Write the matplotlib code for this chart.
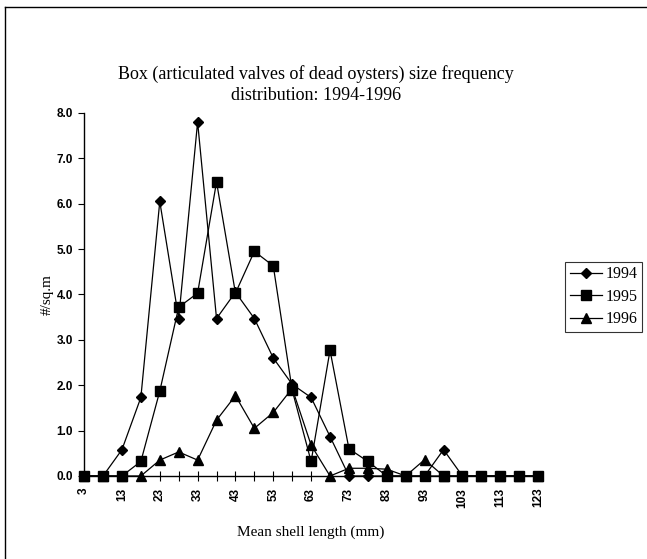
import matplotlib.pyplot as plt
from matplotlib.lines import Line2D

# shell length classes (mm)
lengths = list(range(3, 124, 5))

y1994 = [0, 0, 0.58, 1.73, 6.05, 3.47, 7.8, 3.47, 4.05, 3.47, 2.6, 2.02, 1.73, 0.87,
         0, 0, 0, 0, 0, 0.58, 0, 0, 0, 0, 0]
y1995 = [0, 0, 0, 0.32, 1.87, 3.72, 4.03, 6.48, 4.03, 4.95, 4.63, 1.89, 0.32, 2.77,
         0.6, 0.32, 0, 0, 0, 0, 0, 0, 0, 0, 0]
y1996 = [0, 0, 0, 0, 0.35, 0.53, 0.35, 1.23, 1.77, 1.05, 1.4, 1.93, 0.68, 0,
         0.17, 0.17, 0.15, 0, 0.36, 0, 0, 0, 0, 0, 0]

serif = 'Liberation Serif'
sans = 'Liberation Sans'

fig = plt.figure(figsize=(6.47, 5.59), dpi=100)
ax = fig.add_axes([0.13, 0.1485, 0.7017, 0.6494])

idx = range(len(lengths))
ax.plot(idx, y1994, color='k', lw=0.9, marker='D', ms=5.5, label='1994', clip_on=False)
ax.plot(idx, y1995, color='k', lw=0.9, marker='s', ms=6.5, label='1995', clip_on=False)
ax.plot(idx, y1996, color='k', lw=0.9, marker='^', ms=6.5, label='1996', clip_on=False)

ax.set_xlim(0, len(lengths) - 1)
ax.set_ylim(0, 8)
ax.set_yticks([0, 1, 2, 3, 4, 5, 6, 7, 8])
ax.set_yticklabels(['%.1f' % v for v in range(9)], fontfamily=sans,
                   fontweight='bold', fontsize=8.5)
ax.set_xticks(list(idx))
ax.set_xticklabels([str(v) if i % 2 == 0 else '' for i, v in enumerate(lengths)],
                   rotation=90, fontfamily=sans, fontweight='bold', fontsize=8.5,
                   va='top')
ax.tick_params(axis='x', direction='inout', length=7, width=0.8, pad=5)
ax.tick_params(axis='y', direction='out', length=4, width=0.8, pad=4)

for s in ['top', 'right']:
    ax.spines[s].set_visible(False)
ax.spines['left'].set_linewidth(1.0)
ax.spines['bottom'].set_linewidth(1.0)

ax.set_ylabel('#/sq.m', fontfamily=serif, fontsize=11, labelpad=2)
ax.set_xlabel('Mean shell length (mm)', fontfamily=serif, fontsize=11, labelpad=13)

fig.text(0.488, 0.849, 'Box (articulated valves of dead oysters) size frequency\ndistribution: 1994-1996',
         ha='center', va='center', fontfamily=serif, fontsize=13, linespacing=1.35)

leg = fig.legend(loc='upper left', bbox_to_anchor=(0.874, 0.532),
                 prop={'family': serif, 'size': 11.5}, frameon=True, fancybox=False,
                 handlelength=2.0, handletextpad=0.2, borderpad=0.3,
                 labelspacing=0.4, borderaxespad=0)
leg.get_frame().set_edgecolor('k')
leg.get_frame().set_linewidth(0.8)

# outer chart border (left and top edges visible)
fig.add_artist(Line2D([0.008, 0.008], [0, 0.988], color='k', lw=1.0,
                      transform=fig.transFigure))
fig.add_artist(Line2D([0.008, 1.0], [0.988, 0.988], color='k', lw=1.0,
                      transform=fig.transFigure))

fig.savefig('out.png', dpi=100)
